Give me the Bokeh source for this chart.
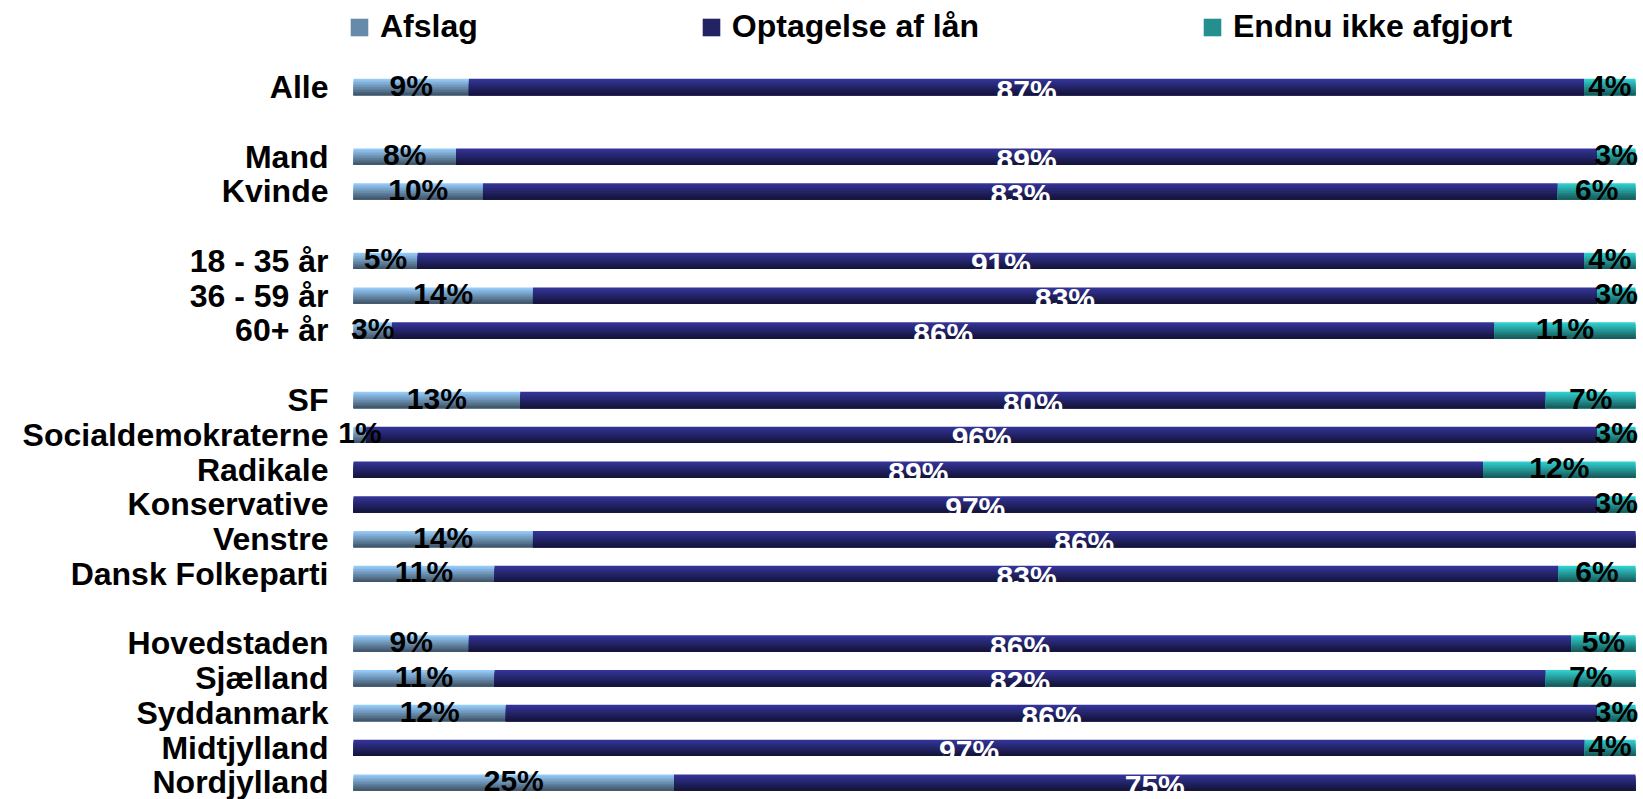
from bokeh.plotting import figure
from bokeh.models import Range1d, FixedTicker, Legend, LegendItem, ColumnDataSource
from bokeh.transform import dodge
from bokeh.core.properties import value
from bokeh.embed import file_html
from bokeh.resources import INLINE

# ---------------- data ----------------
categories = ["Alle",
              "Mand", "Kvinde",
              "18 - 35 år", "36 - 59 år", "60+ år",
              "SF", "Socialdemokraterne", "Radikale", "Konservative", "Venstre", "Dansk Folkeparti",
              "Hovedstaden", "Sjælland", "Syddanmark", "Midtjylland", "Nordjylland"]
group_sizes = [1, 2, 3, 6, 5]
series_names = ["Afslag", "Optagelse af lån", "Endnu ikke afgjort"]
afslag = [9, 8, 10, 5, 14, 3, 13, 1, 0, 0, 14, 11, 9, 11, 12, 0, 25]
optagelse = [87, 89, 83, 91, 83, 86, 80, 96, 89, 97, 86, 83, 86, 82, 86, 97, 75]
endnu = [4, 3, 6, 4, 3, 11, 7, 3, 12, 3, 0, 6, 5, 7, 3, 4, 0]

# ---------------- layout ----------------
W, H = 1643, 799
PXU = 12.82            # px per percent unit
BAR_X0 = 353           # page x of 0 %
LEFT, RIGHT = 330, 2   # frame borders
PITCH = 34.78          # px per slot
TOP_PX = 86.5          # px from figure top to first bar centre
BAR_H = 0.47           # bar height in slot units
NSTRIP = 10            # nested strips imitating the vertical gradient
FONT = "Liberation Sans"

ypos = []
slot = 0
for g in group_sizes:
    for _ in range(g):
        ypos.append(slot)
        slot += 1
    slot += 1

series = [afslag, optagelse, endnu]
totals = [a + b + c for a, b, c in zip(afslag, optagelse, endnu)]
lefts, rights = [], []
cum = [0.0] * len(categories)
for s in series:
    l = list(cum)
    r = [c + v / t * 100 for c, v, t in zip(cum, s, totals)]
    lefts.append(l)
    rights.append(r)
    cum = r

grad = [((148, 202, 248), (66, 86, 106)),
        ((52, 52, 152), (20, 20, 60)),
        ((48, 206, 206), (24, 92, 92))]
label_colors = ["black", "white", "black"]
label_offsets = [-2, 3, -2]


def mix(c1, c2, t):
    return "#%02x%02x%02x" % tuple(int(round(a + (b - a) * t)) for a, b in zip(c1, c2))


frame_w = W - LEFT - RIGHT
x_start = -(BAR_X0 - LEFT) / PXU
x_end = x_start + frame_w / PXU

p = figure(width=W, height=H, output_backend="svg", toolbar_location=None,
           x_range=Range1d(x_start, x_end),
           y_range=Range1d(start=(H - TOP_PX) / PITCH, end=-TOP_PX / PITCH),
           min_border_left=LEFT, min_border_right=RIGHT,
           min_border_top=0, min_border_bottom=0)
p.outline_line_color = None
p.xgrid.visible = False
p.ygrid.visible = False
p.xaxis.visible = False
p.background_fill_color = "white"

legend_renderers = []
for k, s in enumerate(series):
    src = ColumnDataSource(dict(y=ypos, left=lefts[k], right=rights[k]))
    mid = None
    for i in range(NSTRIP):
        top = -BAR_H / 2 + i * BAR_H / NSTRIP
        off = (top + BAR_H / 2) / 2
        hgt = BAR_H / 2 - top
        col = mix(grad[k][0], grad[k][1], i / (NSTRIP - 1))
        r = p.hbar(y=dodge("y", off, range=p.y_range), left="left", right="right",
                   height=hgt, source=src, fill_color=col, line_color=None)
        if i == NSTRIP // 2:
            mid = r
    legend_renderers.append(mid)

for k, s in enumerate(series):
    xs, ys, ts = [], [], []
    for j, v in enumerate(s):
        if v > 0:
            xs.append((lefts[k][j] + rights[k][j]) / 2)
            ys.append(ypos[j])
            ts.append(f"{v}%")
    src = ColumnDataSource(dict(x=xs, y=ys, text=ts))
    p.text(x="x", y="y", text="text", source=src, text_align="center",
           text_baseline="middle", y_offset=label_offsets[k],
           text_font=value(FONT), text_font_style="bold", text_font_size="30px",
           text_color=label_colors[k])

yaxis = p.yaxis[0]
yaxis.ticker = FixedTicker(ticks=ypos)
yaxis.major_label_overrides = {y: c for y, c in zip(ypos, categories)}
yaxis.axis_line_color = None
yaxis.major_tick_line_color = None
yaxis.minor_tick_line_color = None
yaxis.major_tick_out = 0
yaxis.major_tick_in = 0
yaxis.major_label_standoff = 2
yaxis.major_label_text_font = FONT
yaxis.major_label_text_font_style = "bold"
yaxis.major_label_text_font_size = "32px"
yaxis.major_label_text_color = "black"

legend = Legend(items=[LegendItem(label=n, renderers=[r]) for n, r in zip(series_names, legend_renderers)],
                orientation="horizontal", location=(BAR_X0 - 3 - LEFT - 2, 754),
                padding=0, margin=0, spacing=222,
                glyph_width=22, glyph_height=22, label_standoff=10,
                label_text_font=FONT, label_text_font_style="bold",
                label_text_font_size="32px", label_text_color="black",
                border_line_color=None, background_fill_alpha=0)
p.add_layout(legend)

open("out.html", "w").write(file_html(p, INLINE))
